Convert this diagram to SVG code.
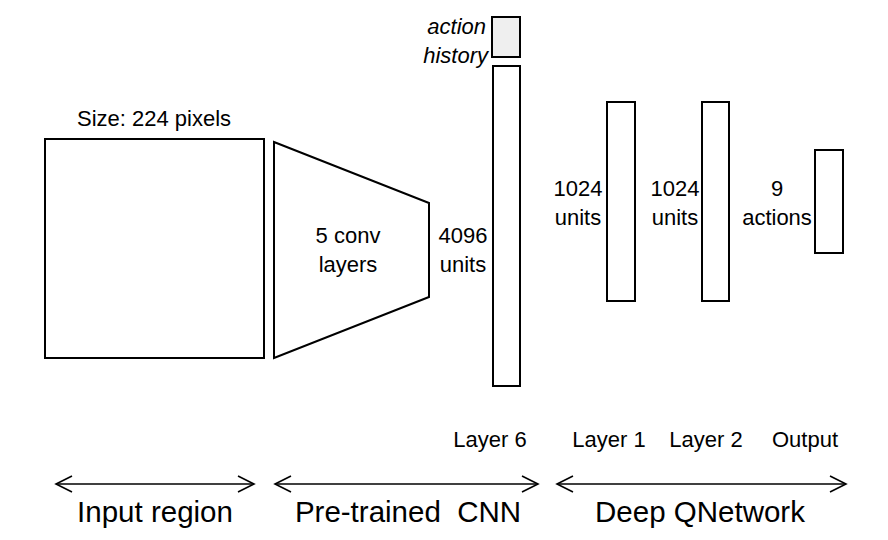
<svg xmlns="http://www.w3.org/2000/svg" width="888" height="540" viewBox="0 0 888 540">
<defs>
<style>
.box{fill:#fff;stroke:#000;stroke-width:2}
.t{font-family:"Liberation Sans",Arial,sans-serif;font-size:22px;fill:#000;text-anchor:middle}
.big{font-size:29.5px}
.it{font-style:italic;text-anchor:end}
.arr{stroke:#000;stroke-width:1.6;fill:none}
</style>
<marker id="ah" viewBox="0 0 20 20" refX="18" refY="10" markerWidth="20" markerHeight="20" markerUnits="userSpaceOnUse" orient="auto-start-reverse">
<path d="M2,2 L18,10 L2,18" fill="none" stroke="#000" stroke-width="1.6"/>
</marker>
</defs>
<rect width="888" height="540" fill="#fff"/>
<g id="input">
<rect class="box" x="45" y="139" width="219" height="219"/>
<text class="t" x="154" y="126">Size: 224 pixels</text>
</g>
<g id="conv">
<polygon class="box" points="274,142 429,203 429,297 274,358"/>
<text class="t" x="348" y="243">5 conv</text>
<text class="t" x="348" y="272">layers</text>
</g>
<g id="history">
<rect x="492" y="17" width="28" height="40" fill="#efefef" stroke="#000" stroke-width="2"/>
<text class="t it" x="486" y="34">action</text>
<text class="t it" x="488" y="63">history</text>
</g>
<g id="layer6">
<rect class="box" x="493" y="66" width="27" height="320"/>
<text class="t" x="463" y="243">4096</text>
<text class="t" x="463" y="272">units</text>
<text class="t" x="490" y="447">Layer 6</text>
</g>
<g id="layer1">
<rect class="box" x="607" y="102" width="28" height="199"/>
<text class="t" x="578" y="196">1024</text>
<text class="t" x="578" y="225">units</text>
<text class="t" x="609" y="447">Layer 1</text>
</g>
<g id="layer2">
<rect class="box" x="702" y="102" width="27" height="199"/>
<text class="t" x="675" y="196">1024</text>
<text class="t" x="675" y="225">units</text>
<text class="t" x="706" y="447">Layer 2</text>
</g>
<g id="output">
<rect class="box" x="815" y="150" width="28" height="103"/>
<text class="t" x="777" y="196">9</text>
<text class="t" x="777" y="225">actions</text>
<text class="t" x="805" y="447">Output</text>
</g>
<g id="connectors">
<line class="arr" x1="56" y1="484" x2="254" y2="484" marker-start="url(#ah)" marker-end="url(#ah)"/>
<line class="arr" x1="275" y1="484" x2="538" y2="484" marker-start="url(#ah)" marker-end="url(#ah)"/>
<line class="arr" x1="557" y1="484" x2="846" y2="484" marker-start="url(#ah)" marker-end="url(#ah)"/>
</g>
<g id="sections">
<text class="t big" x="155" y="522">Input region</text>
<text class="t big" x="408" y="522" xml:space="preserve">Pre-trained  CNN</text>
<text class="t big" x="700" y="522">Deep QNetwork</text>
</g>
</svg>
